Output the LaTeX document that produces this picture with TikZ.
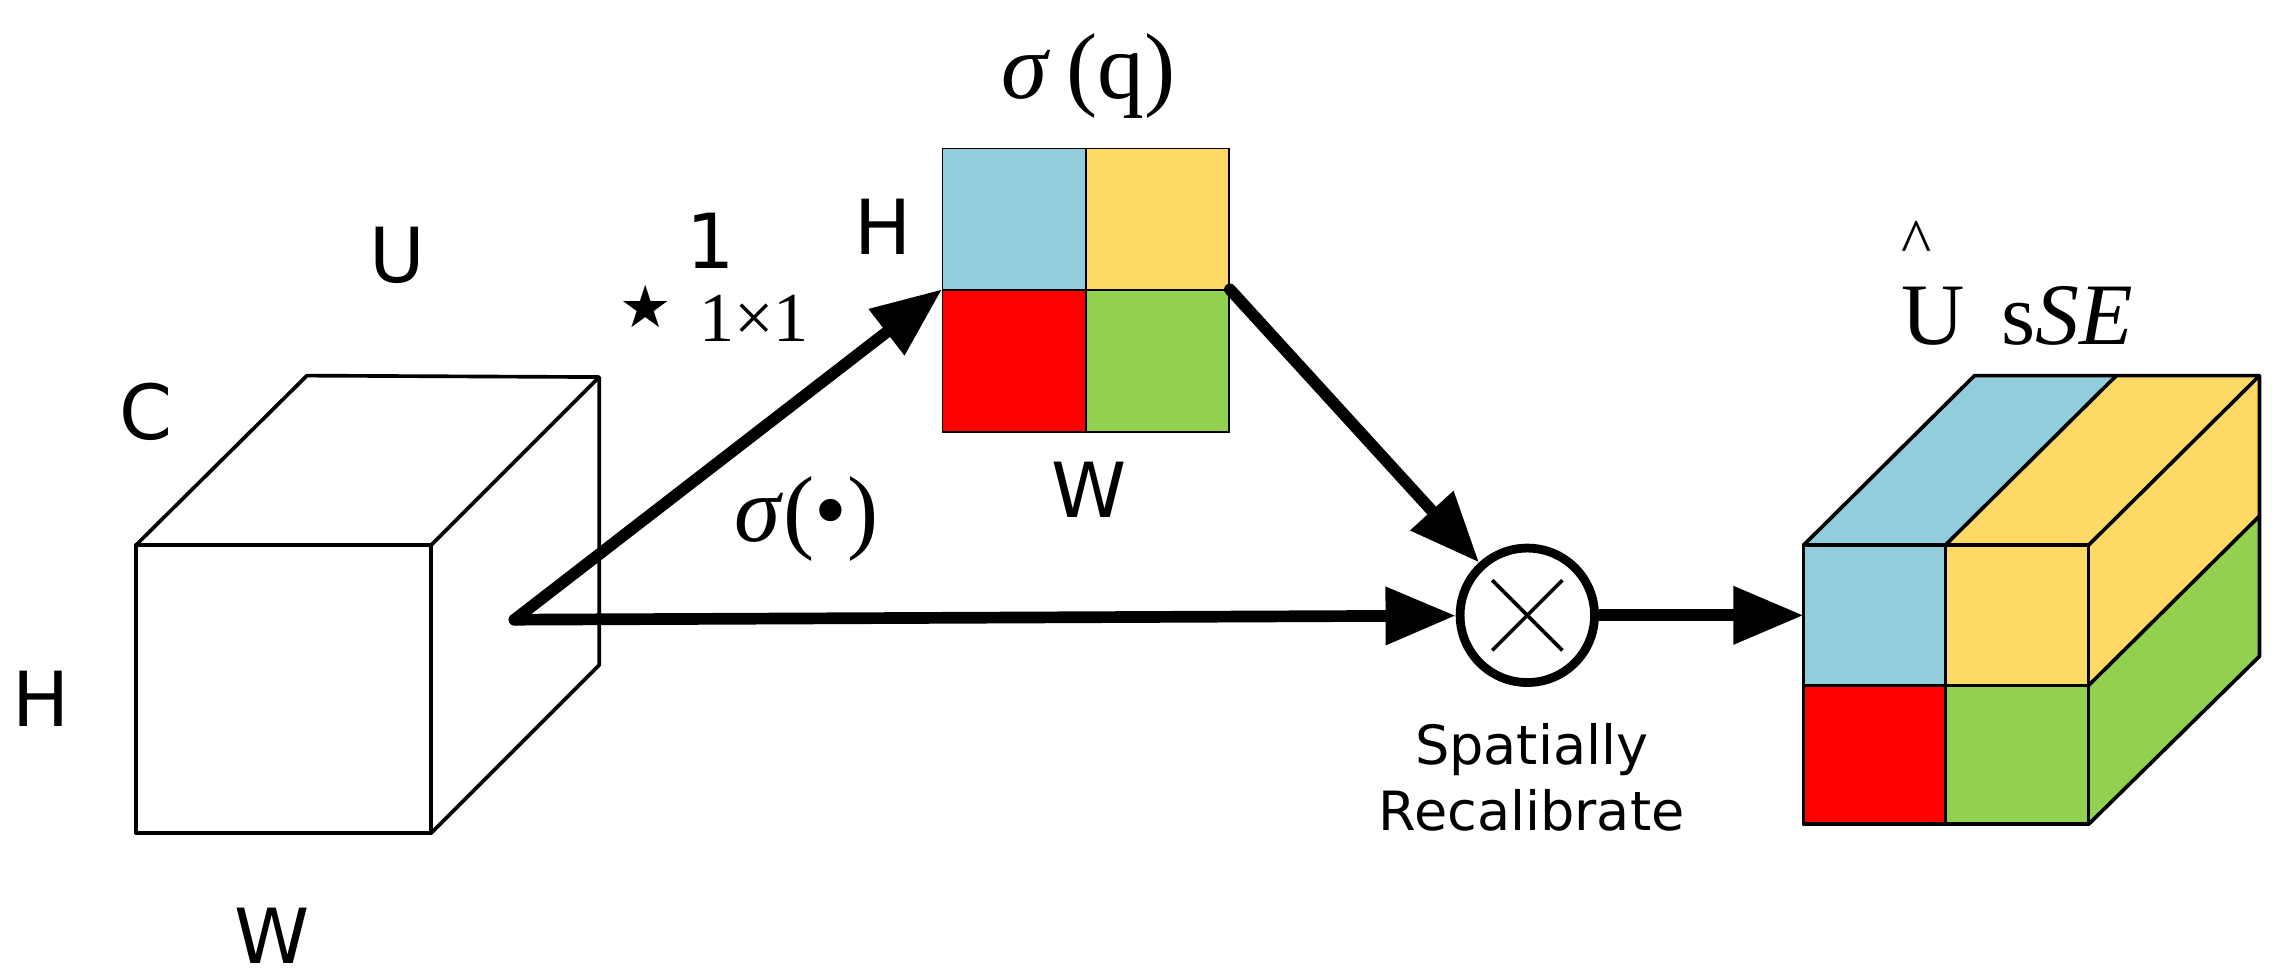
\documentclass[tikz,border=0pt]{standalone}
\usepackage{fontspec}
\setmainfont{DejaVu Sans}
\newfontfamily\serifFont{Liberation Serif}
\usetikzlibrary{arrows.meta}
\definecolor{cBlue}{HTML}{92CDDC}
\definecolor{cYellow}{HTML}{FFD966}
\definecolor{cRed}{HTML}{FF0000}
\definecolor{cGreen}{HTML}{92D050}
\newcommand\bigFont{\fontsize{52}{58}\selectfont}
\newcommand\smallFont{\fontsize{37}{45}\selectfont}
\newcommand\cubeDX{117}
\newcommand\cubeDY{-116}
\tikzset{
	cell/.style={draw, line width=1pt, inner sep=0pt, minimum width=98pt, minimum height=97pt, fill=#1},
	flow/.style={line width=8pt, -{Triangle[length=48pt,width=38pt]}},
	edge/.style={line width=2.5pt, line join=round},
	lbl/.style={font=\bigFont, inner sep=0pt},
	serif/.style={inner sep=0pt, font=\fontsize{#1}{#1}\serifFont}
}
\begin{document}
\begin{tikzpicture}[x=1pt,y=-1pt]
	\useasboundingbox (0,0) rectangle (1560,669);

	% input cube U
	\draw[edge] (93,373) rectangle (295,570);
	\draw[edge] (93,373) -- ++(\cubeDX,\cubeDY) -- (410,258) -- (410,455) -- (295,570);
	\draw[edge] (295,373) -- (410,258);
	\node[lbl] (uLbl) at (272,175) {U};
	\node[lbl] (cLbl) at (100,282) {C};
	\node[lbl] (hLbl) at (28,478) {H};
	\node[lbl] (wLbl) at (186,640) {W};

	% attention map
	\node[cell=cBlue] (qTL) at (694,150) {};
	\node[cell=cYellow] (qTR) at (792,150) {};
	\node[cell=cRed] (qBL) at (694,247) {};
	\node[cell=cGreen] (qBR) at (792,247) {};
	\node[serif=64] (qLbl) at (745,52) {\textit{σ}\,(q)};
	\node[lbl] (qH) at (604,155) {H};
	\node[lbl] (qW) at (745,335) {W};
	\node[lbl] (one) at (486,165) {1};
	\node[inner sep=0pt, font=\fontsize{40}{40}\selectfont] (star) at (442,210) {★};
	\node[serif=48] (conv) at (516,218) {1×1};
	\node[serif=64] (sig) at (552,355) {\textit{σ}(•)};

	% multiply
	\coordinate (src) at (352,424);
	\node[circle, draw, line width=6pt, minimum size=92pt, inner sep=0pt] (mul) at (1045,421) {};
	\draw[line width=2.5pt] (mul.center) ++(-24,-24) -- ++(48,48);
	\draw[line width=2.5pt] (mul.center) ++(24,-24) -- ++(-48,48);
	\node[align=center, font=\smallFont, inner sep=0pt] (recal) at (1048,532) {Spatially\\Recalibrate};

	% output cube
	\fill[cBlue] (1234,373) rectangle (1331,469);
	\fill[cYellow] (1331,373) rectangle (1429,469);
	\fill[cRed] (1234,469) rectangle (1331,564);
	\fill[cGreen] (1331,469) rectangle (1429,564);
	\fill[cBlue] (1234,373) -- ++(\cubeDX,\cubeDY) -- ++(97,0) -- (1331,373) -- cycle;
	\fill[cYellow] (1331,373) -- ++(\cubeDX,\cubeDY) -- (1546,257) -- (1546,353) -- (1429,469) -- (1429,373) -- cycle;
	\fill[cGreen] (1429,469) -- (1546,353) -- (1546,449) -- (1429,564) -- cycle;
	\draw[edge] (1234,373) rectangle (1429,564);
	\draw[edge] (1331,373) -- (1331,564) (1234,469) -- (1429,469);
	\draw[edge] (1234,373) -- ++(\cubeDX,\cubeDY) -- (1546,257) -- (1546,449) -- (1429,564);
	\draw[edge] (1429,373) -- (1546,257) (1331,373) -- (1448,257) (1429,469) -- (1546,353);
	\coordinate (outIn) at (1234,421);
	\node[serif=60] (outLbl) at (1380,216) {U\, s\textit{SE}};
	\node[serif=44] (outHat) at (1311,166) {\^{}};

	% connectors
	\draw[flow, line cap=round] (src) -- (qBL.north west);
	\draw[flow, line cap=round] (src) -- (mul);
	\draw[flow, line cap=round] (qBR.north east) -- (mul);
	\draw[flow] (mul) -- (outIn);
\end{tikzpicture}
\end{document}
